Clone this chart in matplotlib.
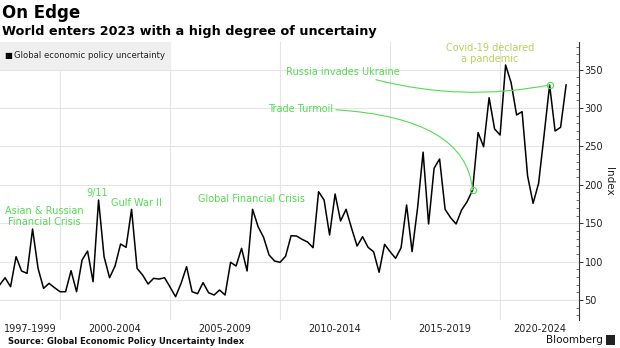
import numpy as np
import matplotlib.pyplot as plt
from matplotlib.patches import Rectangle

# Quarterly Global Economic Policy Uncertainty index, 1997Q1 - 2022Q4
first_year = 1997
epu = [
    69.5, 79, 67.3, 106.4,      # 1997
    87.8, 84.7, 142.4, 91.2,    # 1998
    65.2, 71.7, 66, 60.8,       # 1999
    60.8, 88.2, 60.8, 102,      # 2000
    113.8, 73.8, 180.2, 106.4,  # 2001
    79, 94.3, 122.9, 118.6,     # 2002
    168.1, 91.2, 82.6, 70.8,    # 2003
    78.2, 77.3, 79, 66.9,       # 2004
    54.3, 71.7, 93.4, 60.8,     # 2005
    58.2, 72.6, 59.5, 56.5,     # 2006
    63, 56.5, 99.1, 94.3,       # 2007
    117.3, 87.8, 168.1, 145.5,  # 2008
    131.6, 108.6, 100.8, 99.1,  # 2009
    107, 133.7, 133.3, 129,     # 2010
    125.5, 118.1, 191, 180.2,   # 2011
    134.6, 188, 152.9, 168.1,   # 2012
    143.4, 120.3, 132.4, 118.6, # 2013
    112.9, 86.1, 122.5, 112.9,  # 2014
    104.3, 118.1, 173.7, 113,   # 2015
    170, 242.5, 149, 221.5,     # 2016
    233.6, 168.1, 157.2, 149,   # 2017
    167.2, 178, 193.2, 267.9,   # 2018
    249.6, 313.4, 272.7, 264.8, # 2019
    356, 333, 290.9, 295.2,     # 2020
    211.5, 175.9, 202, 264.8,   # 2021
    330, 270, 274.9, 330,       # 2022
]

period_labels = ['1997-1999', '2000-2004', '2005-2009', '2010-2014', '2015-2019', '2020-2024']
period_edges = [1997, 2000, 2005, 2010, 2015, 2020, 2025]

# events: (label, quarter index)
event_asian = ('Asian & Russian\nFinancial Crisis', 6)
event_911 = ('9/11', 18)
event_gulf = ('Gulf War II', 24)
event_gfc = ('Global Financial Crisis', 46)
event_trade = ('Trade Turmoil', 86)
event_covid = ('Covid-19 declared\na pandemic', 92)
event_russia = ('Russia invades Ukraine', 100)

green = '#52dc52'
lime = '#b2d45a'

# quarter-end positions in decimal years
x = first_year + (np.arange(len(epu)) + 1) / 4.0

fig = plt.figure(figsize=(6.2, 3.48), dpi=100)
ax = fig.add_axes([0, 0.0805, 0.934, 0.799])

ax.plot(x, epu, color='black', linewidth=1.1, zorder=3)

x0, x1 = 1997.27, 2023.59
ax.set_xlim(x0, x1)
ax.set_ylim(24, 386)

# axis: values on the right only
for side in ['left', 'top', 'bottom']:
    ax.spines[side].set_visible(False)
ax.spines['right'].set_color('#333333')
ax.spines['right'].set_linewidth(0.8)
ax.yaxis.tick_right()
ax.set_yticks(np.arange(50, 351, 50))
ax.set_yticks(np.arange(30, 381, 10), minor=True)
ax.tick_params(axis='y', which='major', direction='out', length=3, width=0.7,
               pad=1, labelsize=7, colors='#333333', labelcolor='#222222')
ax.tick_params(axis='y', which='minor', direction='in', length=2.5, width=0.6,
               colors='#555555')
ax.yaxis.set_label_position('right')
ax.set_ylabel('Index', fontsize=7.5, rotation=270, labelpad=8, color='#222222')

# period labels centred in the visible part of each span
centers = []
for a, b in zip(period_edges[:-1], period_edges[1:]):
    centers.append((max(a, x0) + min(b, x1)) / 2)
ax.set_xticks(centers)
ax.set_xticklabels(period_labels)
ax.tick_params(axis='x', length=0, pad=3, labelsize=7, labelcolor='#222222')

# grid
for e in period_edges[1:-1]:
    ax.axvline(e, color='#e4e4e4', linewidth=0.8, zorder=0)
ax.yaxis.grid(True, which='major', color='#e4e4e4', linewidth=0.8, zorder=0)
ax.set_axisbelow(True)

# annotations
def label(ev, tx, ty, color=green, ha='center'):
    ax.text(tx, ty, ev[0], color=color, fontsize=7, ha=ha, va='center',
            linespacing=1.15, zorder=4)

label(event_asian, 1999.3, 159)
label(event_911, 2001.68, 189)
label(event_gulf, 2003.45, 176)
label(event_gfc, 2008.72, 181)
label(event_covid, 2019.54, 371, color=lime)

ax.annotate(event_trade[0], xy=(x[event_trade[1]], epu[event_trade[1]]),
            xytext=(2009.45, 299), color=green, fontsize=7, ha='left', va='center',
            arrowprops=dict(arrowstyle='-', color=green, lw=0.8,
                            shrinkA=0, shrinkB=0,
                            connectionstyle='angle3,angleA=0,angleB=95'))
ax.annotate(event_russia[0], xy=(x[event_russia[1]], epu[event_russia[1]]),
            xytext=(2010.27, 347), color=green, fontsize=7, ha='left', va='center',
            arrowprops=dict(arrowstyle='-', color=green, lw=0.8,
                            shrinkA=0, shrinkB=0,
                            relpos=(0.7, 0.0),
                            connectionstyle='arc3,rad=0.12'))
for ev in (event_trade, event_russia):
    ax.plot(x[ev[1]], epu[ev[1]], marker='o', markersize=4.5, mfc='none',
            mec=green, mew=0.8, zorder=5)

# legend strip
ax.add_patch(Rectangle((0, 0.9), 0.295, 0.1, transform=ax.transAxes,
                       facecolor='#efefef', edgecolor='none', zorder=2))
ax.text(0.008, 0.95, '\u25a0', transform=ax.transAxes, fontsize=6,
        va='center', ha='left', color='black', zorder=3)
ax.text(0.025, 0.95, 'Global economic policy uncertainty', transform=ax.transAxes,
        fontsize=6.1, va='center', ha='left', color='#222222', zorder=3)

# titles and footer
fig.text(0.003, 0.963, 'On Edge', fontsize=12, fontweight='bold', va='center')
fig.text(0.003, 0.91, 'World enters 2023 with a high degree of uncertainy',
         fontsize=9.2, fontweight='bold', va='center')
fig.text(0.013, 0.02, 'Source: Global Economic Policy Uncertainty Index',
         fontsize=6, fontweight='bold', va='center', color='#111111')
fig.text(0.972, 0.022, 'Bloomberg', fontsize=7.5, va='center', ha='right',
         color='#111111')
fig.patches.append(Rectangle((0.978, 0.008), 0.014, 0.028,
                             transform=fig.transFigure, facecolor='#222222',
                             edgecolor='none'))

fig.savefig('out.png', dpi=100)
